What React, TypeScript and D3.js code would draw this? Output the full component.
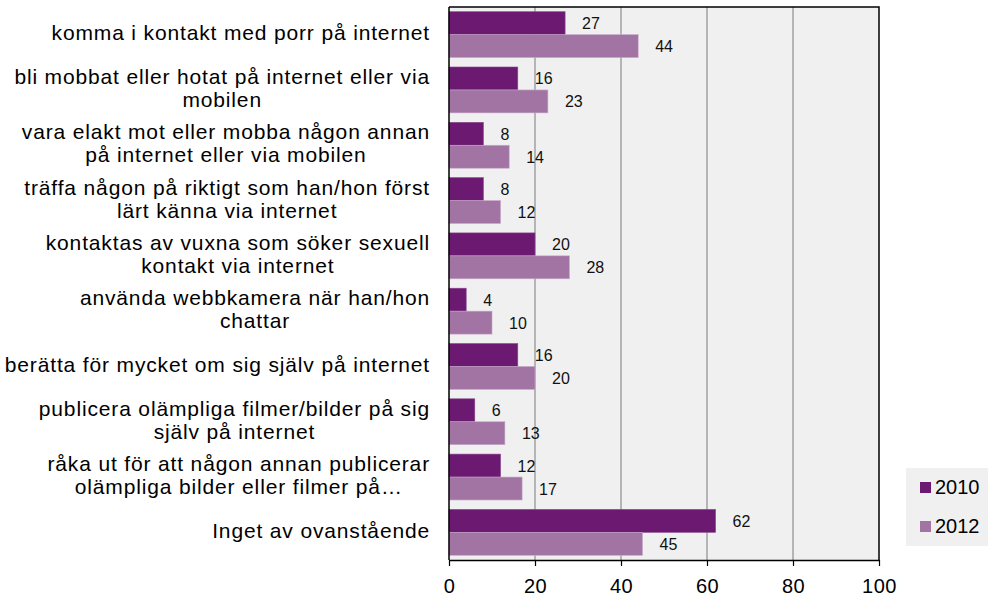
import React, { useEffect, useRef } from "react";
import * as d3 from "d3";

const categories: string[][] = [
  ["komma i kontakt med porr på internet"],
  ["bli mobbat eller hotat på internet eller via", "mobilen"],
  ["vara elakt mot eller mobba någon annan", "på internet eller via mobilen"],
  ["träffa någon på riktigt som han/hon först", "lärt känna via internet"],
  ["kontaktas av vuxna som söker sexuell", "kontakt via internet"],
  ["använda webbkamera när han/hon", "chattar"],
  ["berätta för mycket om sig själv på internet"],
  ["publicera olämpliga filmer/bilder på sig", "själv på internet"],
  ["råka ut för att någon annan publicerar", "olämpliga bilder eller filmer på…"],
  ["Inget av ovanstående"],
];
const values2010: number[] = [27, 16, 8, 8, 20, 4, 16, 6, 12, 62];
const values2012: number[] = [44, 23, 14, 12, 28, 10, 20, 13, 17, 45];
const seriesNames: string[] = ["2010", "2012"];
const xTicks: number[] = [0, 20, 40, 60, 80, 100];

const W = 988;
const H = 597;
const FONT = "'Liberation Sans', Arial, Helvetica, sans-serif";
const COLORS = ["#6c1a71", "#a174a4"];

export default function App() {
  const ref = useRef<SVGSVGElement | null>(null);

  useEffect(() => {
    const svg = d3.select(ref.current);
    svg.selectAll("*").remove();

    const left = 449, right = 879, top = 7, bottom = 560;
    const x = d3.scaleLinear().domain([0, 100]).range([left, right]);
    const y = d3.scaleBand<number>().domain(d3.range(categories.length)).range([top, bottom]).paddingInner(0.17).paddingOuter(0.085);
    const sub = d3.scaleBand<number>().domain([0, 1]).range([0, y.bandwidth()]);

    // plot background
    svg.append("rect").attr("x", left).attr("y", top).attr("width", right - left).attr("height", bottom - top).attr("fill", "#f0f0f0");

    // gridlines
    svg.append("g").selectAll("line").data(xTicks.filter((t) => t > 0 && t < 100)).join("line")
      .attr("x1", (d) => x(d)).attr("x2", (d) => x(d)).attr("y1", top).attr("y2", bottom)
      .attr("stroke", "#7a7a7a").attr("stroke-width", 1);

    const series = [values2010, values2012];
    series.forEach((vals, si) => {
      const g = svg.append("g");
      g.selectAll("rect").data(vals).join("rect")
        .attr("x", x(0))
        .attr("y", (_d, i) => (y(i) as number) + (sub(si) as number))
        .attr("width", (d) => x(d) - x(0))
        .attr("height", sub.bandwidth())
        .attr("fill", COLORS[si])
        .attr("stroke", si === 0 ? "#8a4a8e" : "#c9a9cb")
        .attr("stroke-width", 0.6);
      g.selectAll("text").data(vals).join("text")
        .attr("x", (d) => x(d) + 17)
        .attr("y", (_d, i) => (y(i) as number) + (sub(si) as number) + sub.bandwidth() / 2 + 6)
        .attr("font-family", FONT).attr("font-size", 16).attr("fill", "#111")
        .text((d) => String(d));
    });

    // border top/right
    svg.append("path").attr("d", `M${left},${top}H${right}V${bottom}`).attr("fill", "none").attr("stroke", "#000").attr("stroke-width", 1.5);
    // left axis line
    svg.append("line").attr("x1", left).attr("x2", left).attr("y1", top).attr("y2", bottom).attr("stroke", "#000").attr("stroke-width", 1.5);

    // bottom axis
    const axis = d3.axisBottom(x).tickValues(xTicks).tickSize(6).tickSizeOuter(0).tickFormat((d) => String(d));
    const ag = svg.append("g").attr("transform", `translate(0,${bottom})`).call(axis);
    ag.select(".domain").attr("stroke", "#000").attr("stroke-width", 1.5);
    ag.selectAll(".tick line").attr("stroke", "#000").attr("stroke-width", 1.2);
    ag.selectAll(".tick text").attr("font-family", FONT).attr("font-size", 20).attr("letter-spacing", 0.5).attr("fill", "#000").attr("dy", null).attr("y", 33);

    // category labels
    const lineH = 23;
    const labelRight = 430;
    categories.forEach((lines, i) => {
      const cy = (y(i) as number) + y.bandwidth() / 2;
      const g = svg.append("g");
      const texts = lines.map((ln, li) =>
        g.append("text")
          .attr("font-family", FONT).attr("font-size", 21).attr("letter-spacing", 0.85).attr("fill", "#000")
          .attr("text-anchor", "middle")
          .attr("y", cy + (li - (lines.length - 1) / 2) * lineH + 5.5)
          .text(ln)
      );
      const maxW = d3.max(texts, (t) => (t.node() as SVGTextElement).getComputedTextLength()) || 0;
      texts.forEach((t) => t.attr("x", labelRight - maxW / 2));
    });

    // legend
    const lg = svg.append("g");
    lg.append("rect").attr("x", 906).attr("y", 468).attr("width", 90).attr("height", 78).attr("fill", "#f0f0f0");
    seriesNames.forEach((name, i) => {
      const ly = 494 + i * 39;
      lg.append("rect").attr("x", 920).attr("y", ly - 12).attr("width", 11).attr("height", 11).attr("fill", COLORS[i]);
      lg.append("text").attr("x", 935).attr("y", ly).attr("font-family", FONT).attr("font-size", 20).attr("fill", "#000").text(name);
    });
  }, []);

  return (
    <svg ref={ref} width={W} height={H} style={{ position: "absolute", left: 0, top: 0, background: "#fff" }} />
  );
}
